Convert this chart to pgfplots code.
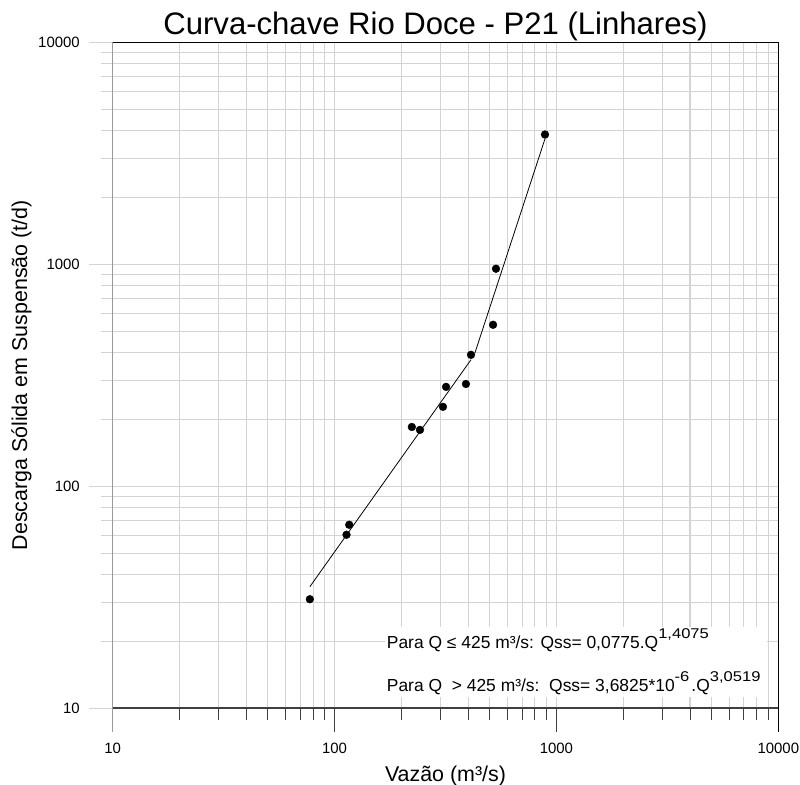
\documentclass[border=0pt]{standalone}
\usepackage{pgfplots}
\pgfplotsset{compat=1.18}
\usepackage{fontspec}
\setmainfont{Liberation Sans}
\definecolor{gridc}{gray}{0.83}
\definecolor{yaxc}{gray}{0.6}
\definecolor{xaxc}{gray}{0.25}
\newcommand\sups[1]{\raisebox{10.7bp}{\scalebox{1.17}[1]{\fontsize{14.2}{14.2}\selectfont #1}}}
\begin{document}
\begin{tikzpicture}
\begin{axis}[
 xmode=log, ymode=log,
 xmin=10, xmax=10000, ymin=10, ymax=10000,
 width=665.6bp, height=666bp, scale only axis,
 axis x line*=bottom, axis y line*=left,
 x axis line style={xaxc, line width=2.2bp},
 y axis line style={yaxc, line width=1.5bp},
 xtick={10,100,1000,10000}, xticklabels={10,100,1000,10000},
 ytick={10,100,1000,10000}, yticklabels={10,100,1000,10000},
 minor xtick={20,30,40,50,60,70,80,90,200,300,400,500,600,700,800,900,2000,3000,4000,5000,6000,7000,8000,9000},
 minor ytick={20,30,40,50,60,70,80,90,200,300,400,500,600,700,800,900,2000,3000,4000,5000,6000,7000,8000,9000},
 grid=both,
 major grid style={gridc, line width=1.1bp},
 minor grid style={gridc, line width=1.1bp},
 tick align=outside,
 major tick length=23.5bp, minor tick length=11.5bp,
 x tick style={xaxc, line width=1bp},
 y tick style={gridc, line width=1.1bp},
 tick label style={font=\fontsize{15}{15}\selectfont},
 xticklabel style={yshift=-8bp},
 yticklabel style={xshift=-6bp},
 /pgf/number format/assume math mode=true,
 clip=false,
]
\addplot[black, line width=0.8bp, no marks] coordinates {(77.4,35.3) (412,371.8)};
\addplot[black, line width=0.8bp, no marks] coordinates {(428.5,396.9) (888,3675)};
\addplot[only marks, mark=*, mark size=3.9bp, black] coordinates {
(77.4,31.0) (113.2,60.5) (116.4,67.1) (223,185) (242.6,179.5) (308,228)
(318,280.5) (391,289) (412,391) (518,534) (534,955) (888,3842)};
\draw[black, line width=0.8bp] (rel axis cs:0,1) -- (rel axis cs:1,1) -- (rel axis cs:1,0) -- ([yshift=-24bp]rel axis cs:1,0);
\draw[yaxc, line width=1.5bp] (rel axis cs:0,0) -- ([yshift=-24bp]rel axis cs:0,0);
\node[fill=white, inner sep=0, minimum width=382bp, minimum height=70bp, anchor=north west, xshift=272.3bp, yshift=81.3bp] at (rel axis cs:0,0) {};
\node[anchor=base west, inner sep=0, xshift=274bp, yshift=59.3bp, font=\fontsize{17.5}{17.5}\selectfont] at (rel axis cs:0,0) {Para Q ≤ 425 m³/s: Qss= 0,0775.Q\sups{1,4075}};
\node[anchor=base west, inner sep=0, xshift=274bp, yshift=16.3bp, font=\fontsize{17.5}{17.5}\selectfont] at (rel axis cs:0,0) {Para Q\ \ > 425 m³/s:\ \ Qss= 3,6825*10\sups{-6}\hspace{2bp}.Q\sups{3,0519}};
\node[anchor=base, inner sep=0, xshift=-10bp, yshift=8bp, font=\fontsize{31.2}{31.2}\selectfont] at (rel axis cs:0.5,1) {Curva-chave Rio Doce - P21 (Linhares)};
\node[anchor=base, inner sep=0, yshift=-73bp, font=\fontsize{21.5}{21.5}\selectfont] at (rel axis cs:0.5,0) {Vazão (m³/s)};
\node[xshift=-85.7bp, rotate=90, anchor=base, inner sep=0, font=\fontsize{21.5}{21.5}\selectfont] at (rel axis cs:0,0.5) {Descarga Sólida em Suspensão (t/d)};
\end{axis}
\pgfresetboundingbox
\path[use as bounding box] ([xshift=-112.7bp, yshift=-76.7bp]current axis.south west) rectangle ([xshift=21.7bp, yshift=42.3bp]current axis.north east);
\end{tikzpicture}
\end{document}
